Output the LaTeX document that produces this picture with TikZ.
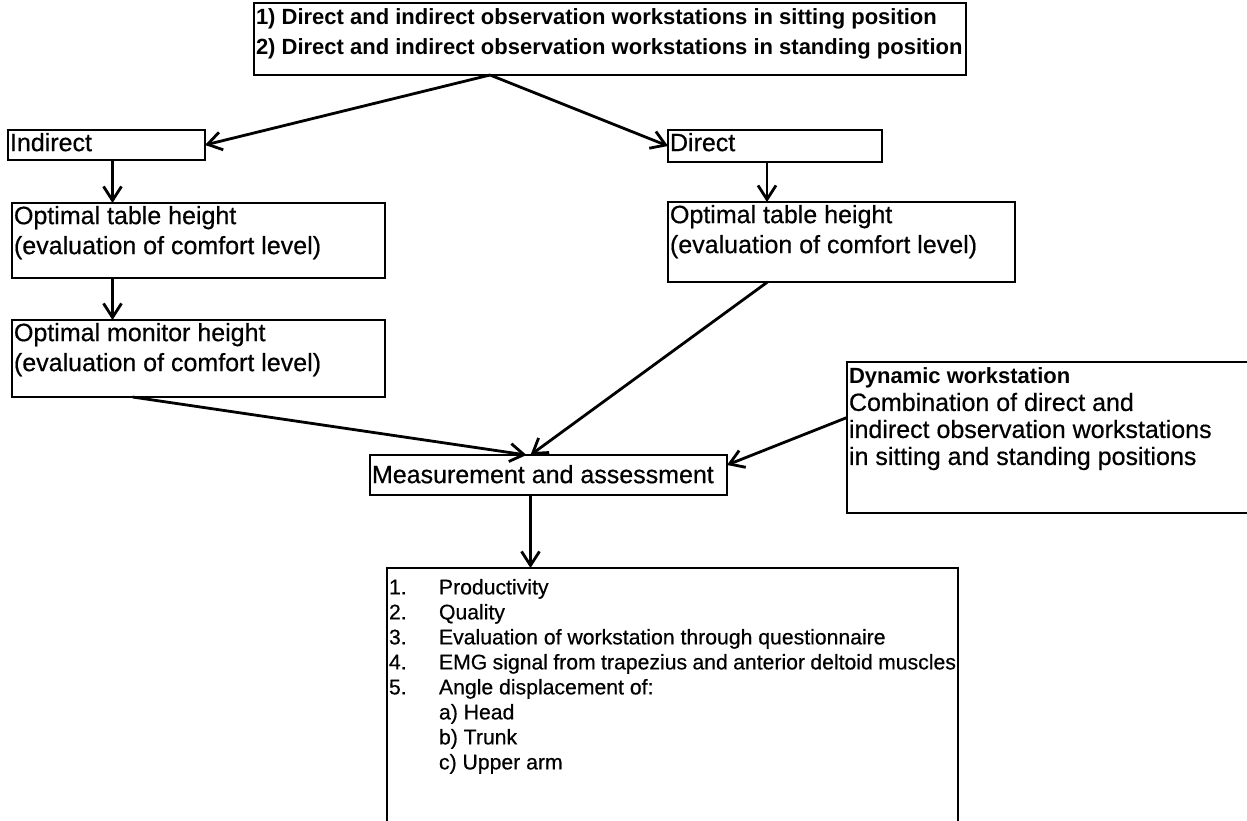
\documentclass[tikz,border=0pt]{standalone}
\usepackage{fontspec}
\setmainfont{Liberation Sans}[UprightFeatures={FakeBold=0.5}]
\usepackage{tikz}
\usetikzlibrary{arrows.meta}
\newcommand{\cellbox}[3]{\parbox[c][#2][t]{#1}{\raggedright #3}}
\newcommand{\itemno}[1]{\makebox[25pt][l]{#1}}

\begin{document}
\begin{tikzpicture}[x=0.5pt,y=-0.5pt,>={Straight Barb[length=7pt,width=9pt]},
	link/.style={->,line width=1.4pt},
	box node/.style={draw,line width=1.1pt,anchor=north west,outer sep=0pt,inner xsep=1pt,inner ysep=1.5pt,font=\fontsize{12.5}{15}\selectfont},
	list node/.style={box node,inner ysep=5.5pt,font=\fontsize{10.6}{12.5}\selectfont}]
	\clip (0,0) rectangle (1247,820);
	\node[box node,inner ysep=3pt,font=\bfseries\fontsize{11}{15}\selectfont] (top) at (254,3) {\cellbox{354pt}{30pt}{\mbox{1) Direct and indirect observation workstations in sitting position}\\\mbox{2) Direct and indirect observation workstations in standing position}}};
	\node[box node] (indirect) at (8,130) {\cellbox{96.5pt}{12pt}{Indirect}};
	\node[box node] (direct) at (668,130) {\cellbox{105pt}{13pt}{Direct}};
	\node[box node] (ltable) at (12,203) {\cellbox{184.5pt}{34.5pt}{Optimal table height\\(evaluation of comfort level)}};
	\node[box node] (lmonitor) at (12,320) {\cellbox{184.5pt}{35.5pt}{Optimal monitor height\\(evaluation of comfort level)}};
	\node[box node] (rtable) at (668,202) {\cellbox{171.5pt}{37pt}{Optimal table height\\(evaluation of comfort level)}};
	\node[box node,inner ysep=5pt] (measure) at (370,455) {\cellbox{176.5pt}{10pt}{Measurement and assessment}};
	\node[box node,inner ysep=3pt,font=\fontsize{12.5}{13.5}\selectfont] (dynamic) at (847,362) {\cellbox{208pt}{69.5pt}{{\bfseries\fontsize{11}{13.5}\selectfont Dynamic workstation}\\Combination of direct and\\indirect observation workstations\\in sitting and standing positions}};
	\node[list node] (results) at (387,568) {\cellbox{283.5pt}{130pt}{\itemno{1.}Productivity\\\itemno{2.}Quality\\\itemno{3.}Evaluation of workstation through questionnaire\\\itemno{4.}EMG signal from trapezius and anterior deltoid muscles\\\itemno{5.}Angle displacement of:\\\hspace*{25pt}a) Head\\\hspace*{25pt}b) Trunk\\\hspace*{25pt}c) Upper arm}};

	\draw[link] ([xshift=-60pt]top.south) -- (indirect.east);
	\draw[link] ([xshift=-60pt]top.south) -- (direct.west);
	\draw[link] ([xshift=3pt]indirect.south) -- ([xshift=3pt]indirect.south |- ltable.north);
	\draw[link] ([xshift=-43pt]ltable.south) -- ([xshift=-43pt]lmonitor.north);
	\draw[link] ([xshift=-4pt]direct.south) -- ([xshift=-4pt]direct.south |- rtable.north);
	\draw[link] ([xshift=-33pt]lmonitor.south) -- ([xshift=-11pt]measure.north);
	\draw[link] ([xshift=-37pt]rtable.south) -- ([xshift=-9pt]measure.north);
	\draw[link] ([yshift=10pt]dynamic.west) -- ([yshift=5pt]measure.east);
	\draw[link] ([xshift=-9pt]measure.south) -- ([xshift=-9pt]measure.south |- results.north);
\end{tikzpicture}
\end{document}
